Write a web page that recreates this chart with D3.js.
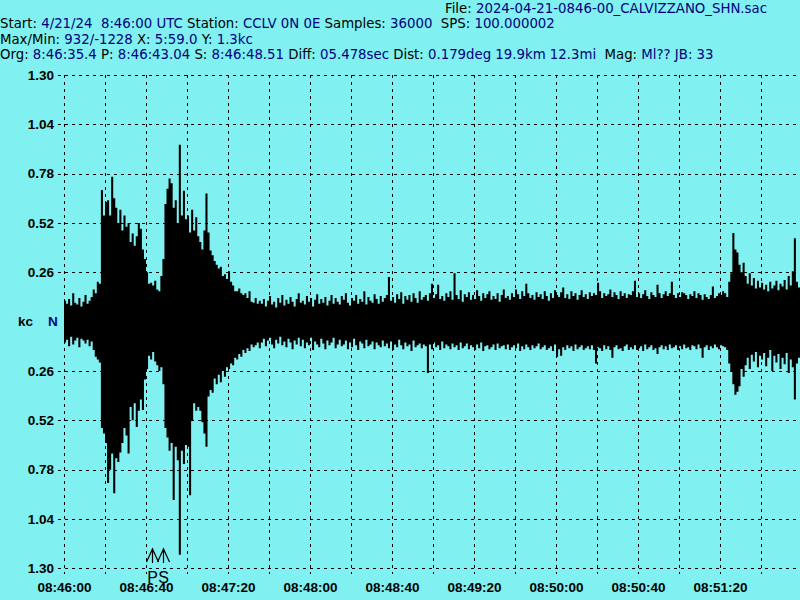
<!DOCTYPE html>
<html><head><meta charset="utf-8">
<script src="https://cdn.jsdelivr.net/npm/d3@7"></script>
<style>
html,body{margin:0;padding:0;background:#80f0f0;}
svg{display:block;}
text{white-space:pre;}
</style>
</head><body>
<svg id="chart" width="800" height="600"></svg>
<script>
// Per-second maximum of the trace (counts), seconds 0..359
const upperCounts = [
110,95,120,85,150,100,90,125,80,105,140,95,110,130,
170,150,210,200,
694,560,630,640,560,764,650,600,520,590,480,560,500,520,420,465,400,450,520,490,380,330,260,200,205,190,215,170,160,240,
330,620,700,755,730,600,640,520,932,560,690,540,560,470,590,480,550,450,420,380,480,676,470,375,350,320,300,280,290,240,
250,225,265,210,190,160,160,175,150,140,150,125,160,105,100,125,95,110,
95,120,80,110,135,90,105,75,125,100,140,85,115,95,130,105,80,120,150,100,
110,90,135,105,125,80,115,145,95,120,100,130,85,110,140,95,125,105,90,135,
115,150,100,85,125,110,140,95,120,105,160,90,130,110,100,145,120,95,135,105,
125,140,235,110,130,100,145,120,155,95,135,115,140,105,150,125,100,160,115,130,
140,110,150,200,125,145,195,120,135,110,150,130,160,115,255,140,120,165,105,145,
130,155,115,140,120,165,135,110,150,125,145,160,115,135,120,150,105,140,170,125,
135,115,150,130,170,145,120,160,135,200,150,125,140,115,155,130,145,120,160,135,
110,150,125,165,140,130,155,180,125,145,120,160,135,150,115,140,165,130,145,120,
155,135,150,140,205,160,125,150,135,145,170,130,155,140,120,160,135,150,125,145,
140,160,215,130,150,125,145,165,135,120,155,140,130,195,150,125,145,160,135,150,
210,140,125,150,130,155,150,140,120,145,135,160,125,150,140,115,145,130,120,140,
185,125,135,150,140,160,
150,130,210,255,467,380,365,300,260,310,240,200,255,190,230,175,215,180,
205,170,195,160,210,175,190,215,165,200,185,220,170,240,190,265,440,210,180,160
];
// Per-second minimum of the trace (counts), seconds 0..359
const lowerCounts = [
-110,-95,-130,-80,-120,-100,-85,-135,-90,-100,-115,-95,-130,-105,
-150,-185,-200,-215,
-560,-590,-640,-850,-780,-695,-905,-720,-740,-690,-640,-560,-600,-695,-450,-520,-430,-555,-470,-410,-465,-305,-250,-180,-200,-160,-210,-230,-260,-240,
-330,-560,-610,-680,-640,-940,-660,-730,-1228,-680,-750,-650,-660,-915,-520,-430,-470,-450,-470,-530,-590,-660,-395,-360,-375,-300,-330,-280,-320,-260,
-290,-240,-250,-220,-230,-190,-200,-170,-185,-150,-165,-140,-155,-120,-135,-125,-110,-140,
-110,-90,-130,-100,-85,-120,-140,-95,-115,-80,-125,-105,-135,-90,-110,-145,-100,-120,-85,-130,
-95,-140,-110,-125,-85,-150,-105,-120,-135,-90,-115,-145,-100,-125,-110,-85,-140,-120,-95,-130,
-120,-100,-145,-110,-135,-90,-125,-150,-105,-115,-140,-95,-130,-120,-105,-145,-110,-125,-135,-100,
-130,-115,-140,-105,-150,-120,-135,-95,-125,-145,-110,-130,-120,-155,-100,-135,-125,-115,-140,-120,
-130,-270,-120,-145,-110,-135,-125,-150,-105,-140,-120,-130,-145,-115,-135,-125,-150,-110,-140,-130,
-115,-145,-125,-135,-150,-120,-140,-110,-155,-130,-125,-145,-135,-120,-150,-115,-140,-130,-125,-145,
-120,-150,-135,-125,-140,-115,-155,-130,-145,-120,-135,-150,-125,-140,-130,-115,-145,-135,-125,-150,
-140,-130,-155,-120,-185,-145,-180,-135,-150,-125,-140,-130,-155,-120,-145,-135,-125,-150,-140,-130,
-145,-125,-150,-220,-135,-140,-155,-125,-145,-130,-150,-190,-135,-125,-145,-140,-155,-130,-120,-150,
-135,-145,-125,-150,-140,-130,-155,-120,-145,-135,-125,-150,-140,-170,-135,-125,-145,-130,-150,-120,
-140,-135,-125,-150,-130,-145,-120,-140,-135,-150,-125,-130,-145,-120,-140,-190,-135,-125,-150,-130,
-140,-120,-135,-145,-125,-130,
-135,-150,-220,-260,-330,-385,-370,-340,-250,-290,-230,-190,-250,-175,-210,-160,-240,-180,
-200,-165,-235,-190,-150,-260,-180,-215,-170,-250,-190,-225,-165,-270,-200,-240,-410,-220,-190,-170
];
const ampTicks = [1.30, 1.04, 0.78, 0.52, 0.26];          // kc, shown on both sides of zero
const timeTickSeconds = [0, 40, 80, 120, 160, 200, 240, 280, 320];
const timeTickLabels = ["08:46:00","08:46:40","08:47:20","08:48:00","08:48:40","08:49:20","08:50:00","08:50:40","08:51:20"];
const gridSeconds = d3.range(0, 360, 20);
const pickLabels = ["P", "S"];
const pickSeconds = [43.04, 48.51];
const headerLine1 = [["File: ","k"],["2024-04-21-0846-00_CALVIZZANO_SHN.sac","b"]];
const headerLine2 = [["Start: ","k"],["4/21/24  8:46:00 UTC ","b"],["Station: ","k"],["CCLV 0N 0E ","b"],["Samples: ","k"],["36000  ","b"],["SPS: ","k"],["100.000002","b"]];
const headerLine3 = [["Max/Min: ","k"],["932/-1228 ","b"],["X: ","k"],["5:59.0 ","b"],["Y: ","k"],["1.3kc","b"]];
const headerLine4 = [["Org: ","k"],["8:46:35.4 ","b"],["P: ","k"],["8:46:43.04 ","b"],["S: ","k"],["8:46:48.51 ","b"],["Diff: ","k"],["05.478sec ","b"],["Dist: ","k"],["0.179deg 19.9km 12.3mi  ","b"],["Mag: ","k"],["Ml?? ","b"],["JB: 33","b"]];

const BG = "#80f0f0", NAVY = "#000080", INK = "#000000";
const SANS = "'Liberation Sans',Arial,sans-serif";
const WIDE = "'DejaVu Sans',Verdana,sans-serif";
const svg = d3.select("#chart");
svg.append("rect").attr("width", 800).attr("height", 600).attr("fill", BG);

const x = d3.scaleLinear().domain([0, 359]).range([64, 800]);
const y = d3.scaleLinear().domain([-1300, 1300]).range([568.3, 75]);

// gridlines
const grid = svg.append("g").attr("stroke", INK).attr("stroke-width", 1).attr("stroke-dasharray", "3,4").attr("shape-rendering", "crispEdges");
const ampAll = ampTicks.concat(ampTicks.map(v => -v));
grid.selectAll("line.h").data(ampAll).join("line").attr("class", "h")
  .attr("x1", 58).attr("x2", 800).attr("y1", d => Math.round(y(d * 1000)) + 0.5).attr("y2", d => Math.round(y(d * 1000)) + 0.5);
grid.selectAll("line.v").data(gridSeconds).join("line").attr("class", "v")
  .attr("x1", d => Math.round(x(d)) + 0.5).attr("x2", d => Math.round(x(d)) + 0.5).attr("y1", 75).attr("y2", 574);

// waveform envelope
const wave = upperCounts.map((u, i) => ({ t: i, hi: u, lo: lowerCounts[i] }));
wave.push({ t: wave.length, hi: wave[wave.length - 1].hi, lo: wave[wave.length - 1].lo });
const area = d3.area().curve(d3.curveStepAfter).x(d => x(d.t)).y0(d => y(d.lo)).y1(d => y(d.hi));
svg.append("path").datum(wave).attr("d", area).attr("fill", INK);

// left axis
const yAxis = d3.axisLeft(y).tickValues(ampAll.map(v => v * 1000)).tickSize(0).tickPadding(0)
  .tickFormat(d => (Math.abs(d) / 1000).toFixed(2));
const ya = svg.append("g").attr("transform", "translate(54,0)").call(yAxis);
ya.select(".domain").remove();
ya.selectAll("text").style("font-family", SANS).style("font-size", "13.5px").style("font-weight", "bold").attr("fill", INK);

// bottom axis
const xAxis = d3.axisBottom(x).tickValues(timeTickSeconds).tickSize(0).tickPadding(0)
  .tickFormat((d, i) => timeTickLabels[i]);
const xa = svg.append("g").attr("transform", "translate(0,582)").call(xAxis);
xa.select(".domain").remove();
xa.selectAll("text").style("font-family", SANS).style("font-size", "13.5px").style("font-weight", "bold").attr("fill", INK);

// channel label
svg.append("text").attr("x", 18).attr("y", 326).style("font-family", SANS).style("font-size", "13.5px").style("font-weight", "bold").attr("fill", INK).text("kc");
svg.append("text").attr("x", 48).attr("y", 326).style("font-family", SANS).style("font-size", "13.5px").style("font-weight", "bold").attr("fill", NAVY).text("N");

// picks
pickSeconds.forEach((s, i) => {
  const px = Math.round(x(s)) + 0.5;
  svg.append("path").attr("d", `M${px},563V548M${px - 6},562L${px},549L${px + 6},562`).attr("stroke", INK).attr("fill", "none").attr("stroke-width", 1.2);
  svg.append("text").attr("x", px).attr("y", 583).attr("text-anchor", "middle").style("font-family", SANS).style("font-size", "16px").attr("fill", INK).text(pickLabels[i]);
});

// header
function headerLine(parts, xx, yy) {
  const t = svg.append("text").attr("x", xx).attr("y", yy).style("font-family", WIDE).style("font-size", "13.3px");
  t.selectAll("tspan").data(parts).join("tspan").attr("fill", d => d[1] === "k" ? INK : NAVY).text(d => d[0]);
}
headerLine(headerLine1, 445, 13);
headerLine(headerLine2, 0, 28);
headerLine(headerLine3, 0, 44);
headerLine(headerLine4, 0, 59);
</script>
</body></html>
